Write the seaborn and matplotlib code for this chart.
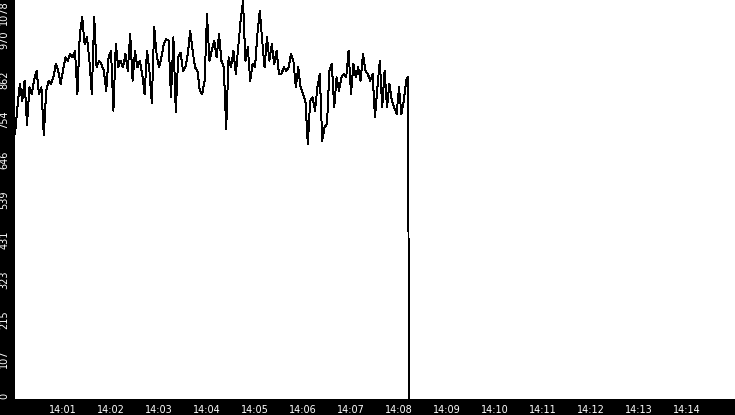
import matplotlib
matplotlib.use("Agg")
from matplotlib import pyplot as plt
import matplotlib.dates as mdates
import numpy as np
import pandas as pd
import seaborn as sns

sns.set_style("white")
plt.rcParams['font.family'] = ['DejaVu Sans']

# samples every 3 s from 14:00:00
start = "2024-01-01 14:00:00"
step_s = 3
rate_a = [716, 788, 851, 806, 860, 740, 842, 824, 864, 887,
          824, 842, 712, 833, 860, 851, 869, 905, 887, 851,
          887, 923, 914, 932, 923, 941, 824, 986, 1031, 959,
          977, 914, 824, 1031, 896, 914, 905, 887, 833, 923,
          941, 779, 959, 896, 914, 896, 932, 887, 986, 860,
          941, 896, 914, 878, 824, 941, 887]
rate_b = [800, 1004, 932, 896, 923, 959, 972, 968, 815, 977,
          775, 923, 936, 887, 896, 932, 995, 941, 896, 887,
          833, 824, 860, 1040, 914, 941, 968, 923, 986, 914,
          896, 729, 923, 896, 941, 878, 950, 1022, 1075, 914,
          950, 860, 905, 896, 986, 1049, 968, 896, 977, 914,
          959, 905, 941, 878]
rate_c = [878, 896, 887, 896, 932, 914, 842, 896, 842, 824,
          806, 689, 806, 815, 779, 842, 878, 698, 734, 743,
          887, 905, 788, 869, 833, 869, 878, 869, 941, 824,
          905, 869, 896, 860, 932, 887, 878, 860, 878, 761,
          842, 914, 788, 887, 788, 851, 806, 788, 770, 842,
          770, 806, 860]
# the drop at the end (seconds after 14:00, value)
tail_s = [491, 492, 493]
tail_v = [870, 385, 0]

y_max = 1078
tick_minutes = list(range(1, 15))

values = rate_a + rate_b + rate_c
secs = [i * step_s for i in range(len(values))] + tail_s
values = values + tail_v
t0 = pd.Timestamp(start)
df = pd.DataFrame({"time": t0 + pd.to_timedelta(secs, unit="s"), "rate": values})

fig = plt.figure(figsize=(7.35, 4.15), dpi=100, facecolor="black")
ax = fig.add_axes([15 / 735, 16 / 415, 720 / 735, 399 / 415])
ax.set_facecolor("white")
sns.lineplot(data=df, x="time", y="rate", ax=ax, color="black", lw=0.7,
             antialiased=False)

ax.set_xlim(t0, t0 + pd.Timedelta(minutes=15))
ax.set_ylim(0, y_max)
ax.set_xticks([t0 + pd.Timedelta(minutes=m) for m in tick_minutes])
ax.xaxis.set_major_formatter(mdates.DateFormatter("%H:%M"))
yt = [i * y_max / 10 for i in range(11)]
ax.set_yticks(yt)
ax.set_yticklabels([str(int(v)) for v in yt], rotation=90, va="center")
ax.get_yticklabels()[-1].set_va("top")
ax.get_yticklabels()[0].set_va("bottom")
ax.set_xlabel("")
ax.set_ylabel("")
for s in ax.spines.values():
    s.set_visible(False)
ax.tick_params(axis="both", colors="white", labelsize=7, length=3.6, width=0.8,
               direction="out")
ax.tick_params(axis="y", pad=0.5)
ax.tick_params(axis="x", pad=0.5)

fig.savefig("out.png", dpi=100, facecolor="black")
